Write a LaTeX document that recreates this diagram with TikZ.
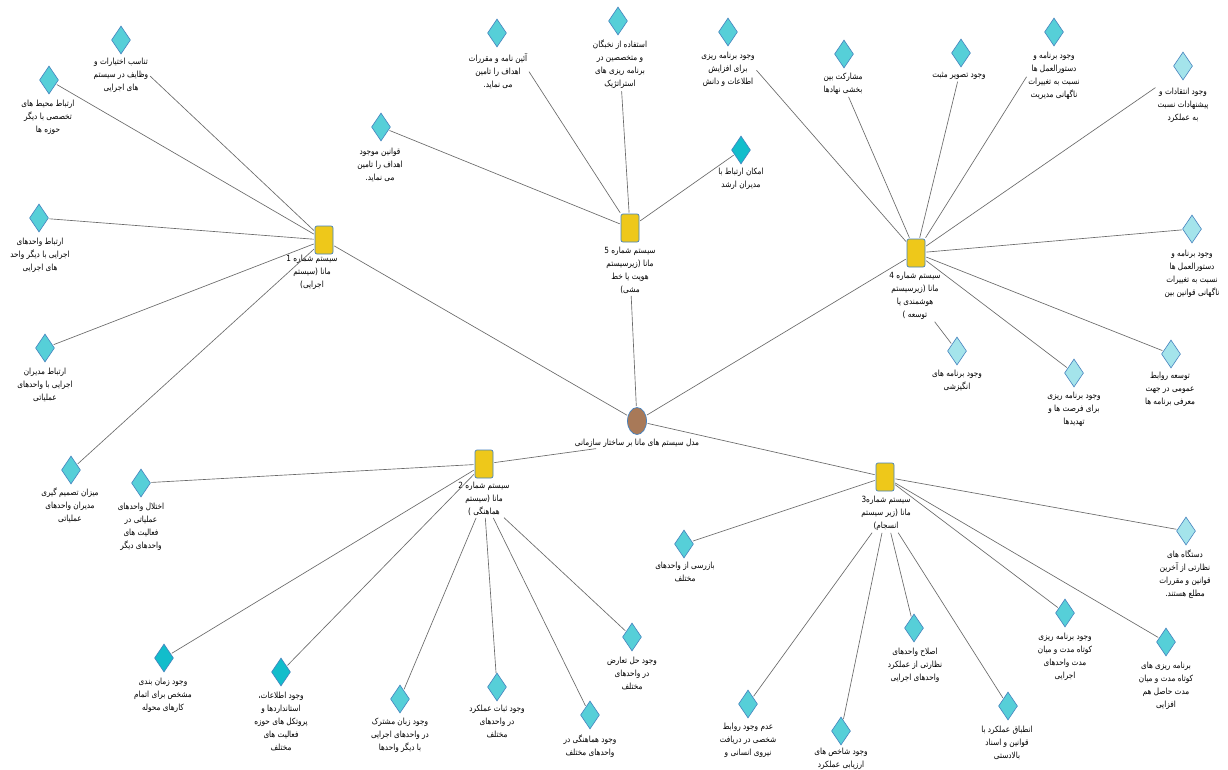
\documentclass[tikz,border=0pt]{standalone}
\usepackage{fontspec}
\newfontfamily\arfont[Script=Arabic,FakeStretch=0.86]{DejaVu Sans}
\TeXXeTstate=1
\usetikzlibrary{shapes.geometric}
\newcommand{\rtl}[1]{\beginR#1\endR}
\definecolor{cMid}{RGB}{86,207,216}
\definecolor{cLight}{RGB}{164,228,235}
\definecolor{cDark}{RGB}{18,189,203}
\definecolor{cBord}{RGB}{70,130,190}
\definecolor{cYel}{RGB}{238,200,26}
\definecolor{cBrown}{RGB}{168,121,88}
\definecolor{cLine}{RGB}{105,105,105}
\tikzset{
  diaM/.style={diamond, draw=cBord, line width=0.6pt, fill=cMid, minimum width=19pt, minimum height=28pt, inner sep=0pt},
  diaL/.style={diaM, fill=cLight},
  diaD/.style={diaM, fill=cDark},
  sbox/.style={rectangle, rounded corners=2pt, draw=cBord, line width=0.7pt, fill=cYel, minimum width=18pt, minimum height=28pt, inner sep=0pt},
  hub/.style={ellipse, draw=cBord, line width=0.7pt, fill=cBrown, minimum width=19pt, minimum height=27pt, inner sep=0pt},
  lab/.style={font=\arfont\fontsize{8.5}{13}\selectfont, align=center, anchor=north, inner sep=1pt},
  conn/.style={draw=cLine, line width=0.65pt, shorten <=1pt, shorten >=1pt}
}
\begin{document}
\begin{tikzpicture}[x=1pt,y=-1pt]
\fill[white] (0,0) rectangle (1228,769);
\useasboundingbox (0,0) rectangle (1228,769);
% hub and systems
\node[hub] (C) at (637,421) {};
\node[lab, anchor=center] (Cl) at (637,443) {\rtl{مدل سیستم های مانا بر ساختار سازمانی}};
\node[sbox] (S1) at (324,240) {};
\node[sbox] (S5) at (630,228) {};
\node[sbox] (S4) at (916,253) {};
\node[sbox] (S2) at (484,464) {};
\node[sbox] (S3) at (885,477) {};
\node[lab] (L1) at (312,254) {\rtl{سیستم شماره 1}\\\rtl{مانا (سیستم}\\\rtl{اجرایی)}};
\node[lab] (L5) at (630,246) {\rtl{سیستم شماره 5}\\\rtl{مانا (زیرسیستم}\\\rtl{هویت یا خط}\\\rtl{مشی)}};
\node[lab] (L4) at (915,271) {\rtl{سیستم شماره 4}\\\rtl{مانا (زیرسیستم}\\\rtl{هوشمندی یا}\\\rtl{توسعه )}};
\node[lab] (L2) at (484,481) {\rtl{سیستم شماره 2}\\\rtl{مانا (سیستم}\\\rtl{هماهنگی )}};
\node[lab] (L3) at (886,495) {\rtl{سیستم شماره3}\\\rtl{مانا (زیر سیستم}\\\rtl{انسجام)}};
% system 1
\node[diaM] (d1a) at (121,40) {};
\node[lab] (l1a) at (121,57) {\rtl{تناسب اختیارات و}\\\rtl{وظایف در سیستم}\\\rtl{های اجرایی}};
\node[diaM] (d1b) at (49,80) {};
\node[lab] (l1b) at (48,99) {\rtl{ارتباط محیط های}\\\rtl{تخصصی با دیگر}\\\rtl{حوزه ها}};
\node[diaM] (d1c) at (39,218) {};
\node[lab] (l1c) at (40,237) {\rtl{ارتباط واحدهای}\\\rtl{اجرایی با دیگر واحد}\\\rtl{های اجرایی}};
\node[diaM] (d1d) at (45,348) {};
\node[lab] (l1d) at (45,367) {\rtl{ارتباط مدیران}\\\rtl{اجرایی با واحدهای}\\\rtl{عملیاتی}};
\node[diaM] (d1e) at (71,470) {};
\node[lab] (l1e) at (70,487) {\rtl{میزان تصمیم گیری}\\\rtl{مدیران واحدهای}\\\rtl{عملیاتی}};
% system 5
\node[diaM] (d5a) at (497,33) {};
\node[lab] (l5a) at (498,52) {\rtl{آئین نامه و مقررات}\\\rtl{اهداف را تامین}\\\rtl{می نماید.}};
\node[diaM] (d5b) at (381,127) {};
\node[lab] (l5b) at (380,147) {\rtl{قوانین موجود}\\\rtl{اهداف را تامین}\\\rtl{می نماید.}};
\node[diaM] (d5c) at (618,21) {};
\node[lab] (l5c) at (620,39) {\rtl{استفاده از نخبگان}\\\rtl{و متخصصین در}\\\rtl{برنامه ریزی های}\\\rtl{استراتژیک}};
\node[diaD] (d5d) at (741,150) {};
\node[lab] (l5d) at (741,167) {\rtl{امکان ارتباط با}\\\rtl{مدیران ارشد}};
% system 4
\node[diaM] (d4a) at (728,32) {};
\node[lab] (l4a) at (728,51) {\rtl{وجود برنامه ریزی}\\\rtl{برای افزایش}\\\rtl{اطلاعات و دانش}};
\node[diaM] (d4b) at (844,54) {};
\node[lab] (l4b) at (843,72) {\rtl{مشارکت بین}\\\rtl{بخشی نهادها}};
\node[diaM] (d4c) at (961,53) {};
\node[lab] (l4c) at (959,71) {\rtl{وجود تصویر مثبت}};
\node[diaM] (d4d) at (1054,32) {};
\node[lab] (l4d) at (1054,51) {\rtl{وجود برنامه و}\\\rtl{دستورالعمل ها}\\\rtl{نسبت به تغییرات}\\\rtl{ناگهانی مدیریت}};
\node[diaL] (d4e) at (1183,66) {};
\node[lab] (l4e) at (1183,87) {\rtl{وجود انتقادات و}\\\rtl{پیشنهادات نسبت}\\\rtl{به عملکرد}};
\node[diaL] (d4f) at (1192,229) {};
\node[lab] (l4f) at (1192,249) {\rtl{وجود برنامه و}\\\rtl{دستورالعمل ها}\\\rtl{نسبت به تغییرات}\\\rtl{ناگهانی قوانین بین}};
\node[diaL] (d4g) at (1171,354) {};
\node[lab] (l4g) at (1170,371) {\rtl{توسعه روابط}\\\rtl{عمومی در جهت}\\\rtl{معرفی برنامه ها}};
\node[diaL] (d4h) at (1074,373) {};
\node[lab] (l4h) at (1074,391) {\rtl{وجود برنامه ریزی}\\\rtl{برای فرصت ها و}\\\rtl{تهدیدها}};
\node[diaL] (d4i) at (957,351) {};
\node[lab] (l4i) at (957,369) {\rtl{وجود برنامه های}\\\rtl{انگیزشی}};
% system 2
\node[diaM] (d2a) at (141,483) {};
\node[lab] (l2a) at (141,502) {\rtl{اختلال واحدهای}\\\rtl{عملیاتی در}\\\rtl{فعالیت های}\\\rtl{واحدهای دیگر}};
\node[diaD] (d2b) at (164,658) {};
\node[lab] (l2b) at (163,677) {\rtl{وجود زمان بندی}\\\rtl{مشخص برای اتمام}\\\rtl{کارهای محوله}};
\node[diaD] (d2c) at (281,672) {};
\node[lab] (l2c) at (281,691) {\rtl{وجود اطلاعات،}\\\rtl{استانداردها و}\\\rtl{پروتکل های حوزه}\\\rtl{فعالیت های}\\\rtl{مختلف}};
\node[diaM] (d2d) at (400,699) {};
\node[lab] (l2d) at (400,717) {\rtl{وجود زبان مشترک}\\\rtl{در واحدهای اجرایی}\\\rtl{با دیگر واحدها}};
\node[diaM] (d2e) at (497,687) {};
\node[lab] (l2e) at (497,704) {\rtl{وجود ثبات عملکرد}\\\rtl{در واحدهای}\\\rtl{مختلف}};
\node[diaM] (d2f) at (590,715) {};
\node[lab] (l2f) at (590,734) {\rtl{وجود هماهنگی در}\\\rtl{واحدهای مختلف}};
\node[diaM] (d2g) at (632,637) {};
\node[lab] (l2g) at (632,656) {\rtl{وجود حل تعارض}\\\rtl{در واحدهای}\\\rtl{مختلف}};
% system 3
\node[diaM] (d3a) at (684,544) {};
\node[lab] (l3a) at (685,561) {\rtl{بازرسی از واحدهای}\\\rtl{مختلف}};
\node[diaM] (d3b) at (748,704) {};
\node[lab] (l3b) at (748,722) {\rtl{عدم وجود روابط}\\\rtl{شخصی در دریافت}\\\rtl{نیروی انسانی و}};
\node[diaM] (d3c) at (841,731) {};
\node[lab] (l3c) at (841,747) {\rtl{وجود شاخص های}\\\rtl{ارزیابی عملکرد}};
\node[diaM] (d3d) at (914,628) {};
\node[lab] (l3d) at (915,647) {\rtl{اصلاح واحدهای}\\\rtl{نظارتی از عملکرد}\\\rtl{واحدهای اجرایی}};
\node[diaM] (d3e) at (1008,706) {};
\node[lab] (l3e) at (1007,725) {\rtl{انطباق عملکرد با}\\\rtl{قوانین و اسناد}\\\rtl{بالادستی}};
\node[diaM] (d3f) at (1065,613) {};
\node[lab] (l3f) at (1065,632) {\rtl{وجود برنامه ریزی}\\\rtl{کوتاه مدت و میان}\\\rtl{مدت واحدهای}\\\rtl{اجرایی}};
\node[diaM] (d3g) at (1166,642) {};
\node[lab] (l3g) at (1166,661) {\rtl{برنامه ریزی های}\\\rtl{کوتاه مدت و میان}\\\rtl{مدت حاصل هم}\\\rtl{افزایی}};
\node[diaL] (d3h) at (1186,531) {};
\node[lab] (l3h) at (1185,549) {\rtl{دستگاه های}\\\rtl{نظارتی از آخرین}\\\rtl{قوانین و مقررات}\\\rtl{مطلع هستند.}};
% connectors
\draw[conn] (S1) -- (C);
\draw[conn] (L5) -- (C);
\draw[conn] (S4) -- (C);
\draw[conn] (S2) -- (Cl);
\draw[conn] (C) -- (S3);
\draw[conn] (l1a.east) -- (S1);
\draw[conn] (d1b) -- (S1);
\draw[conn] (d1c) -- (S1);
\draw[conn] (d1d) -- (S1);
\draw[conn] (d1e) -- (S1);
\draw[conn] (l5a.east) -- (S5);
\draw[conn] (d5b) -- (S5);
\draw[conn] (l5c) -- (S5);
\draw[conn] (d5d) -- (S5);
\draw[conn] (l4a.east) -- (S4);
\draw[conn] (l4b) -- (S4);
\draw[conn] (l4c) -- (S4);
\draw[conn] (l4d.west) -- (S4);
\draw[conn] (l4e.north west) -- (S4);
\draw[conn] (d4f) -- (S4);
\draw[conn] (d4g) -- (S4);
\draw[conn] (d4h) -- (S4);
\draw[conn] (d4i) -- (L4);
\draw[conn] (d2a) -- (S2);
\draw[conn] (d2b) -- (S2);
\draw[conn] (d2c) -- (S2);
\draw[conn] (d2d) -- (L2);
\draw[conn] (d2e) -- (L2);
\draw[conn] (d2f) -- (L2);
\draw[conn] (d2g) -- (L2);
\draw[conn] (d3a) -- (S3);
\draw[conn] (d3b) -- (L3);
\draw[conn] (d3c) -- (L3);
\draw[conn] (d3d) -- (L3);
\draw[conn] (d3e) -- (L3);
\draw[conn] (d3f) -- (S3);
\draw[conn] (d3g) -- (S3);
\draw[conn] (d3h) -- (S3);
\end{tikzpicture}
\end{document}
